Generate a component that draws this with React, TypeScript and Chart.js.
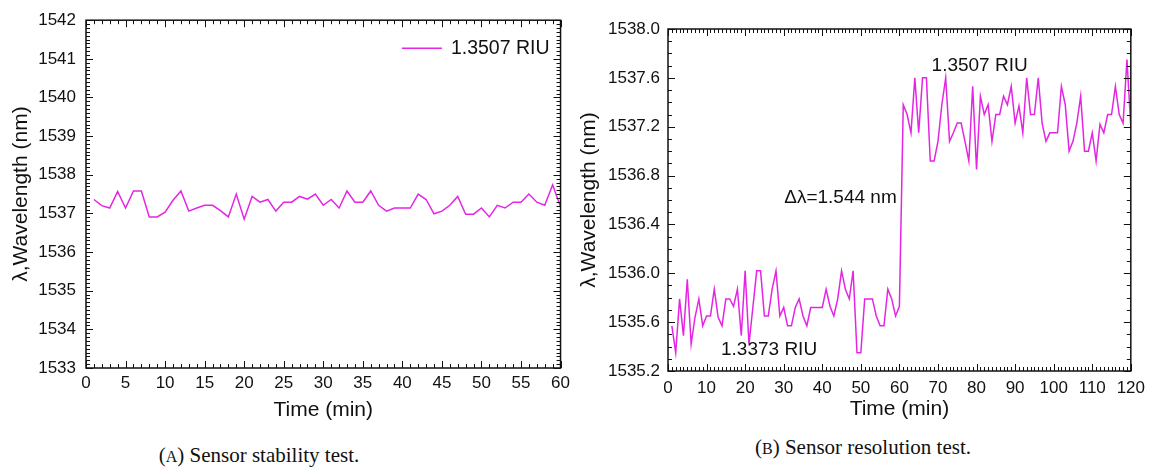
import React, { useEffect, useRef } from 'react';
import { Chart, registerables } from 'chart.js';

Chart.register(...registerables);

// ---------- data ----------
const leftMinutes = [
  1, 2, 3, 4, 5, 6, 7, 8, 9, 10, 11, 12, 13, 14, 15, 16, 17, 18, 19, 20,
  21, 22, 23, 24, 25, 26, 27, 28, 29, 30, 31, 32, 33, 34, 35, 36, 37, 38, 39, 40,
  41, 42, 43, 44, 45, 46, 47, 48, 49, 50, 51, 52, 53, 54, 55, 56, 57, 58, 59, 60,
];
const leftWavelength = [
  1537.36, 1537.2, 1537.14, 1537.57, 1537.14, 1537.58, 1537.58, 1536.91, 1536.91, 1537.03,
  1537.34, 1537.58, 1537.06, 1537.14, 1537.21, 1537.21, 1537.07, 1536.91, 1537.5, 1536.85,
  1537.44, 1537.29, 1537.36, 1537.06, 1537.29, 1537.29, 1537.44, 1537.37, 1537.5, 1537.21,
  1537.36, 1537.14, 1537.58, 1537.29, 1537.29, 1537.58, 1537.21, 1537.06, 1537.14, 1537.14,
  1537.14, 1537.5, 1537.36, 1536.99, 1537.06, 1537.21, 1537.44, 1536.98, 1536.98, 1537.14,
  1536.91, 1537.21, 1537.14, 1537.29, 1537.29, 1537.5, 1537.29, 1537.21, 1537.74, 1537.17,
];
const leftSeriesLabel = '1.3507 RIU';

const rightMinutes = [
  1, 2, 3, 4, 5, 6, 7, 8, 9, 10, 11, 12, 13, 14, 15, 16, 17, 18, 19, 20,
  21, 22, 23, 24, 25, 26, 27, 28, 29, 30, 31, 32, 33, 34, 35, 36, 37, 38, 39, 40,
  41, 42, 43, 44, 45, 46, 47, 48, 49, 50, 51, 52, 53, 54, 55, 56, 57, 58, 59, 60,
  61, 62, 63, 64, 65, 66, 67, 68, 69, 70, 71, 72, 73, 74, 75, 76, 77, 78, 79, 80,
  81, 82, 83, 84, 85, 86, 87, 88, 89, 90, 91, 92, 93, 94, 95, 96, 97, 98, 99, 100,
  101, 102, 103, 104, 105, 106, 107, 108, 109, 110, 111, 112, 113, 114, 115, 116, 117, 118, 119, 120,
];
const rightWavelength = [
  1535.57, 1535.35, 1535.79, 1535.49, 1535.95, 1535.42, 1535.64, 1535.79, 1535.57, 1535.65,
  1535.65, 1535.87, 1535.64, 1535.57, 1535.79, 1535.79, 1535.73, 1535.87, 1535.49, 1536.02,
  1535.42, 1535.72, 1536.02, 1536.02, 1535.65, 1535.65, 1535.87, 1536.02, 1535.65, 1535.72,
  1535.57, 1535.57, 1535.72, 1535.79, 1535.65, 1535.57, 1535.72, 1535.72, 1535.72, 1535.72,
  1535.87, 1535.73, 1535.65, 1535.79, 1536.02, 1535.87, 1535.79, 1536.02, 1535.35, 1535.35,
  1535.79, 1535.79, 1535.79, 1535.65, 1535.57, 1535.57, 1535.87, 1535.79, 1535.65, 1535.73,
  1537.38, 1537.3, 1537.15, 1537.6, 1537.15, 1537.6, 1537.6, 1536.92, 1536.92, 1537.08,
  1537.38, 1537.6, 1537.08, 1537.15, 1537.23, 1537.23, 1537.08, 1536.92, 1537.53, 1536.85,
  1537.45, 1537.3, 1537.38, 1537.08, 1537.3, 1537.3, 1537.45, 1537.38, 1537.53, 1537.23,
  1537.37, 1537.15, 1537.6, 1537.3, 1537.3, 1537.6, 1537.23, 1537.08, 1537.15, 1537.15,
  1537.15, 1537.53, 1537.38, 1537.0, 1537.08, 1537.23, 1537.45, 1537.0, 1537.0, 1537.15,
  1536.92, 1537.22, 1537.15, 1537.3, 1537.3, 1537.53, 1537.3, 1537.23, 1537.75, 1537.2,
];

const rightNoteTexts = ['1.3507 RIU', 'Δλ=1.544 nm', '1.3373 RIU'];
const rightNoteX = [80.8, 59.3, 26.2];
const rightNoteY = [1537.70, 1536.62, 1535.37];
const rightNoteAlign = ['center', 'right', 'center'];

const xTitle = 'Time (min)';
const yTitle = 'λ,Wavelength (nm)';
const captionA = ['(', 'A', ') Sensor stability test.'];
const captionB = ['(', 'B', ') Sensor resolution test.'];

// ---------- styling ----------
const LINE_COLOR = '#e426e4';
const SANS = '"Liberation Sans", Arial, sans-serif';

const frameTicks = {
  id: 'frameTicks',
  afterDraw(chart: any, _args: any, opts: any) {
    const { ctx, chartArea: a } = chart;
    const xs = chart.scales.x;
    const ys = chart.scales.y;
    ctx.save();
    ctx.strokeStyle = '#111';
    ctx.lineWidth = 1;
    const seg = (x1: number, y1: number, x2: number, y2: number) => {
      ctx.beginPath();
      ctx.moveTo(x1, y1);
      ctx.lineTo(x2, y2);
      ctx.stroke();
    };
    const nx = Math.round((xs.max - xs.min) / opts.xMinor);
    for (let i = 0; i <= nx; i++) {
      const v = xs.min + i * opts.xMinor;
      const len = i % opts.xEvery === 0 ? opts.majorLen : opts.minorLen;
      const p = Math.round(xs.getPixelForValue(v)) + 0.5;
      seg(p, a.bottom, p, a.bottom - len);
      seg(p, a.top, p, a.top + len);
    }
    const ny = Math.round((ys.max - ys.min) / opts.yMinor);
    for (let i = 0; i <= ny; i++) {
      const v = ys.min + i * opts.yMinor;
      const len = i % opts.yEvery === 0 ? opts.majorLen : opts.minorLen;
      const p = Math.round(ys.getPixelForValue(v)) + 0.5;
      seg(a.left, p, a.left + len, p);
      seg(a.right, p, a.right - len, p);
    }
    ctx.lineWidth = 1.5;
    ctx.strokeRect(a.left, a.top, a.right - a.left, a.bottom - a.top);

    ctx.fillStyle = '#111';
    ctx.textBaseline = 'middle';
    if (opts.legend) {
      ctx.font = '19.5px ' + SANS;
      const label = chart.data.datasets[0].label;
      const w = ctx.measureText(label).width;
      const tx = a.right - 11 - w;
      const ty = a.top + 28;
      ctx.textAlign = 'left';
      ctx.fillText(label, tx, ty);
      ctx.strokeStyle = LINE_COLOR;
      ctx.lineWidth = 1.5;
      seg(tx - 49, ty, tx - 9, ty);
    }
    if (opts.notes) {
      ctx.font = '19px ' + SANS;
      opts.notes.texts.forEach((t: string, i: number) => {
        ctx.textAlign = opts.notes.align[i];
        ctx.fillText(t, xs.getPixelForValue(opts.notes.x[i]), ys.getPixelForValue(opts.notes.y[i]));
      });
    }
    ctx.restore();
  },
};

function makeConfig(p: any) {
  return {
    type: 'line',
    data: {
      datasets: [
        {
          label: p.label,
          data: p.xs.map((x: number, i: number) => ({ x, y: p.ys[i] })),
          borderColor: LINE_COLOR,
          borderWidth: 1.5,
          pointRadius: 0,
          tension: 0,
          fill: false,
        },
      ],
    },
    options: {
      responsive: false,
      animation: false,
      layout: { padding: { left: 0, top: p.padTop, right: p.padRight, bottom: 0 } },
      plugins: {
        legend: { display: false },
        tooltip: { enabled: false },
        frameTicks: p.ticks,
      },
      scales: {
        x: {
          type: 'linear',
          min: p.xMin,
          max: p.xMax,
          grid: { display: false, drawTicks: false },
          border: { display: false },
          ticks: { stepSize: p.xStep, color: '#111', font: { family: SANS, size: 17 }, padding: p.xTickPad, maxRotation: 0, autoSkip: false },
          title: { display: true, text: xTitle, color: '#111', font: { family: SANS, size: 21 }, padding: { top: 0, bottom: p.xTitlePad } },
          afterFit: (s: any) => { s.height = p.xHeight; },
        },
        y: {
          type: 'linear',
          min: p.yMin,
          max: p.yMax,
          grid: { display: false, drawTicks: false },
          border: { display: false },
          ticks: {
            stepSize: p.yStep,
            color: '#111',
            font: { family: SANS, size: 17 },
            padding: p.yTickPad,
            autoSkip: false,
            callback: (v: number) => v.toFixed(p.yDecimals),
          },
          title: { display: true, text: yTitle, color: '#111', font: { family: SANS, size: 21 }, padding: { top: p.yTitlePad, bottom: 0 } },
          afterFit: (s: any) => { s.width = p.yWidth; },
        },
      },
    },
    plugins: [frameTicks],
  };
}

function ChartCanvas({ cfg, left, width }: { cfg: any; left: number; width: number }) {
  const ref = useRef<HTMLCanvasElement | null>(null);
  useEffect(() => {
    if (!ref.current) return;
    const chart = new Chart(ref.current, cfg);
    return () => chart.destroy();
  }, []);
  return (
    <canvas
      ref={ref}
      width={width}
      height={430}
      style={{ position: 'absolute', left, top: 0, width, height: 430 }}
    />
  );
}

const leftCfg = makeConfig({
  label: leftSeriesLabel,
  xs: leftMinutes,
  ys: leftWavelength,
  xMin: 0, xMax: 60, xStep: 5,
  yMin: 1533, yMax: 1542, yStep: 1, yDecimals: 0,
  padTop: 17, padRight: 13, xHeight: 62, yWidth: 86,
  xTickPad: 5, xTitlePad: 7, yTickPad: 10, yTitlePad: 9,
  ticks: { xMinor: 1, xEvery: 5, yMinor: 0.1, yEvery: 10, majorLen: 7, minorLen: 4, legend: true },
});

const rightCfg = makeConfig({
  label: '1.3507 RIU',
  xs: rightMinutes,
  ys: rightWavelength,
  xMin: 0, xMax: 120, xStep: 10,
  yMin: 1535.2, yMax: 1538.0, yStep: 0.4, yDecimals: 1,
  padTop: 29, padRight: 21, xHeight: 59, yWidth: 93,
  xTickPad: 7, xTitlePad: 8, yTickPad: 8, yTitlePad: 2,
  ticks: {
    xMinor: 1, xEvery: 10, yMinor: 0.1, yEvery: 4, majorLen: 7, minorLen: 4,
    notes: { texts: rightNoteTexts, x: rightNoteX, y: rightNoteY, align: rightNoteAlign },
  },
});

function Caption({ parts, cx, cy }: { parts: string[]; cx: number; cy: number }) {
  return (
    <div
      style={{
        position: 'absolute',
        left: cx - 200,
        top: cy - 14,
        width: 400,
        height: 28,
        lineHeight: '28px',
        textAlign: 'center',
        fontFamily: '"Liberation Serif", "Times New Roman", serif',
        fontSize: 21,
        color: '#111',
        whiteSpace: 'nowrap',
      }}
    >
      {parts[0]}
      <span style={{ fontSize: 16 }}>{parts[1]}</span>
      {parts[2]}
    </div>
  );
}

export default function App() {
  return (
    <div style={{ position: 'fixed', left: 0, top: 0, width: 1152, height: 469, background: '#fff', overflow: 'hidden' }}>
      <ChartCanvas cfg={leftCfg} left={0} width={575} />
      <ChartCanvas cfg={rightCfg} left={575} width={577} />
      <Caption parts={captionA} cx={259} cy={455} />
      <Caption parts={captionB} cx={863} cy={447} />
    </div>
  );
}
